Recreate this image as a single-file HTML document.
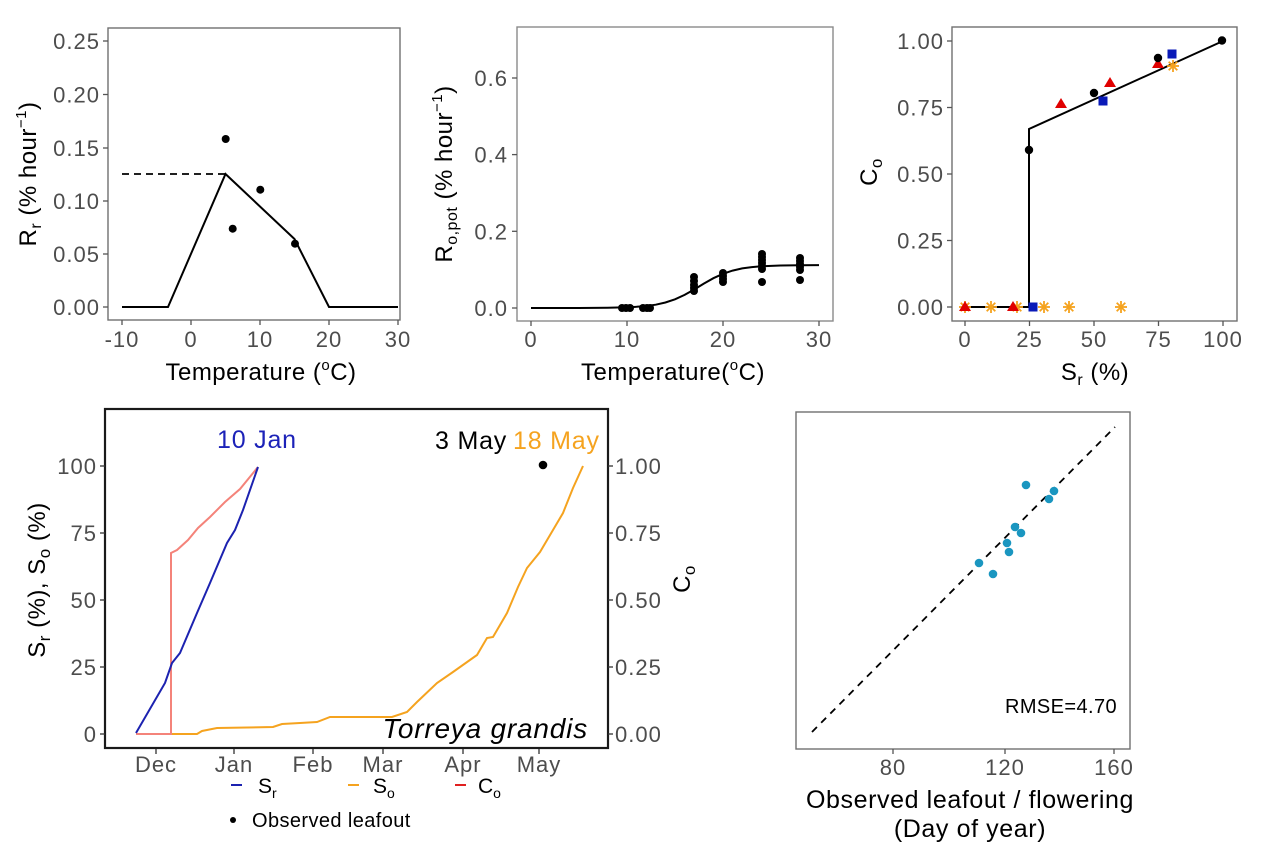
<!DOCTYPE html>
<html><head><meta charset="utf-8"><style>
html,body{margin:0;padding:0;background:#fff;}
svg{display:block;}
.tk{font-family:"Liberation Sans",Arial,sans-serif;font-size:22px;fill:#4d4d4d;letter-spacing:1px;}
.tt{font-family:"Liberation Sans",Arial,sans-serif;font-size:24px;fill:#000;letter-spacing:0.5px;}
</style></head><body>
<svg width="1267" height="845" viewBox="0 0 1267 845" xmlns="http://www.w3.org/2000/svg">
<rect width="1267" height="845" fill="#fff"/>

<!-- ========== Panel 1 ========== -->
<rect x="108" y="28" width="292" height="292" fill="none" stroke="#707070" stroke-width="1.4"/>
<g stroke="#555" stroke-width="1.3">
<line x1="103" y1="41" x2="108" y2="41"/><line x1="103" y1="94.5" x2="108" y2="94.5"/><line x1="103" y1="148" x2="108" y2="148"/><line x1="103" y1="201" x2="108" y2="201"/><line x1="103" y1="254" x2="108" y2="254"/><line x1="103" y1="307" x2="108" y2="307"/>
<line x1="122" y1="320" x2="122" y2="325"/><line x1="191" y1="320" x2="191" y2="325"/><line x1="260" y1="320" x2="260" y2="325"/><line x1="329" y1="320" x2="329" y2="325"/><line x1="398" y1="320" x2="398" y2="325"/>
</g>
<g class="tk" text-anchor="end">
<text x="100" y="49">0.25</text><text x="100" y="102.5">0.20</text><text x="100" y="156">0.15</text><text x="100" y="209">0.10</text><text x="100" y="262">0.05</text><text x="100" y="315">0.00</text>
</g>
<g class="tk" text-anchor="middle">
<text x="122" y="347">-10</text><text x="191" y="347">0</text><text x="260" y="347">10</text><text x="329" y="347">20</text><text x="398" y="347">30</text>
</g>
<polyline points="122,307 168,307 225.5,174 294.5,239 329,307 398,307" fill="none" stroke="#000" stroke-width="2"/>
<line x1="122" y1="174" x2="225" y2="174" stroke="#000" stroke-width="1.8" stroke-dasharray="7,5"/>
<g fill="#000"><circle cx="225.7" cy="139" r="4"/><circle cx="232.7" cy="228.7" r="4"/><circle cx="260.3" cy="189.7" r="4"/><circle cx="295" cy="243.7" r="4"/></g>
<text class="tt" x="261" y="380" text-anchor="middle">Temperature (<tspan font-size="15" dy="-10">o</tspan><tspan dy="10">C)</tspan></text>
<text class="tt" transform="translate(36,174) rotate(-90)" text-anchor="middle">R<tspan font-size="16" dy="5">r</tspan><tspan dy="-5"> (% hour</tspan><tspan font-size="15" dy="-10">−1</tspan><tspan dy="10">)</tspan></text>

<!-- ========== Panel 2 ========== -->
<rect x="517" y="27" width="316" height="294" fill="none" stroke="#8a8a8a" stroke-width="1.4"/>
<g stroke="#555" stroke-width="1.3">
<line x1="512" y1="308" x2="517" y2="308"/><line x1="512" y1="231.3" x2="517" y2="231.3"/><line x1="512" y1="154.6" x2="517" y2="154.6"/><line x1="512" y1="78" x2="517" y2="78"/>
<line x1="531" y1="321" x2="531" y2="326"/><line x1="627" y1="321" x2="627" y2="326"/><line x1="723" y1="321" x2="723" y2="326"/><line x1="819" y1="321" x2="819" y2="326"/>
</g>
<g class="tk" text-anchor="end">
<text x="508" y="316">0.0</text><text x="508" y="239.3">0.2</text><text x="508" y="162.6">0.4</text><text x="508" y="86">0.6</text>
</g>
<g class="tk" text-anchor="middle">
<text x="531" y="347">0</text><text x="627" y="347">10</text><text x="723" y="347">20</text><text x="819" y="347">30</text>
</g>
<polyline points="531,308 579,308 607.8,307.8 627,307.3 636.6,306.8 646.2,306 655.8,304.7 665.4,302.5 675,299.3 684.6,294.9 694.2,289.5 703.8,283.6 713.4,278.2 723,273.8 732.6,270.6 742.2,268.4 751.8,267.1 761.4,266.3 780.6,265.5 799.8,265.3 819,265.1" fill="none" stroke="#000" stroke-width="2"/>
<g fill="#000">
<circle cx="622" cy="308" r="4"/><circle cx="626" cy="308" r="4"/><circle cx="630" cy="308" r="4"/>
<circle cx="643" cy="308" r="4"/><circle cx="647" cy="308" r="4"/><circle cx="650" cy="308" r="4"/>
<circle cx="694" cy="277" r="4"/><circle cx="694" cy="281" r="4"/><circle cx="694" cy="285" r="4"/><circle cx="694" cy="288" r="4"/><circle cx="694" cy="291" r="4"/>
<circle cx="723" cy="273" r="4"/><circle cx="723" cy="276" r="4"/><circle cx="723" cy="279" r="4"/><circle cx="723" cy="282" r="4"/>
<circle cx="762" cy="254" r="4"/><circle cx="762" cy="257" r="4"/><circle cx="762" cy="260" r="4"/><circle cx="762" cy="263" r="4"/><circle cx="762" cy="266" r="4"/><circle cx="762" cy="269" r="4"/><circle cx="762" cy="282" r="4"/>
<circle cx="800" cy="258" r="4"/><circle cx="800" cy="261" r="4"/><circle cx="800" cy="264" r="4"/><circle cx="800" cy="267" r="4"/><circle cx="800" cy="270" r="4"/><circle cx="800" cy="280" r="4"/>
</g>
<text class="tt" x="673" y="380" text-anchor="middle">Temperature(<tspan font-size="15" dy="-10">o</tspan><tspan dy="10">C)</tspan></text>
<text class="tt" transform="translate(452,174) rotate(-90)" text-anchor="middle">R<tspan font-size="16" dy="5">o,pot</tspan><tspan dy="-5"> (% hour</tspan><tspan font-size="15" dy="-10">−1</tspan><tspan dy="10">)</tspan></text>

<!-- ========== Panel 3 ========== -->
<rect x="952" y="27" width="285" height="294" fill="none" stroke="#707070" stroke-width="1.4"/>
<g stroke="#555" stroke-width="1.3">
<line x1="947" y1="41" x2="952" y2="41"/><line x1="947" y1="107.5" x2="952" y2="107.5"/><line x1="947" y1="174" x2="952" y2="174"/><line x1="947" y1="240.5" x2="952" y2="240.5"/><line x1="947" y1="307" x2="952" y2="307"/>
<line x1="965" y1="321" x2="965" y2="326"/><line x1="1029.5" y1="321" x2="1029.5" y2="326"/><line x1="1094" y1="321" x2="1094" y2="326"/><line x1="1158.5" y1="321" x2="1158.5" y2="326"/><line x1="1223" y1="321" x2="1223" y2="326"/>
</g>
<g class="tk" text-anchor="end">
<text x="944" y="49">1.00</text><text x="944" y="115.5">0.75</text><text x="944" y="182">0.50</text><text x="944" y="248.5">0.25</text><text x="944" y="315">0.00</text>
</g>
<g class="tk" text-anchor="middle">
<text x="965" y="347">0</text><text x="1029.5" y="347">25</text><text x="1094" y="347">50</text><text x="1158.5" y="347">75</text><text x="1223" y="347">100</text>
</g>
<polyline points="965,307 1029,307 1029,129 1223,41" fill="none" stroke="#000" stroke-width="2"/>
<g stroke="#f5a31f" stroke-width="1.8">
<g transform="translate(965,307)"><line x1="-6" y1="0" x2="6" y2="0"/><line x1="0" y1="-6" x2="0" y2="6"/><line x1="-4.3" y1="-4.3" x2="4.3" y2="4.3"/><line x1="-4.3" y1="4.3" x2="4.3" y2="-4.3"/></g>
<g transform="translate(991,307)"><line x1="-6" y1="0" x2="6" y2="0"/><line x1="0" y1="-6" x2="0" y2="6"/><line x1="-4.3" y1="-4.3" x2="4.3" y2="4.3"/><line x1="-4.3" y1="4.3" x2="4.3" y2="-4.3"/></g>
<g transform="translate(1017,307)"><line x1="-6" y1="0" x2="6" y2="0"/><line x1="0" y1="-6" x2="0" y2="6"/><line x1="-4.3" y1="-4.3" x2="4.3" y2="4.3"/><line x1="-4.3" y1="4.3" x2="4.3" y2="-4.3"/></g>
<g transform="translate(1044,307)"><line x1="-6" y1="0" x2="6" y2="0"/><line x1="0" y1="-6" x2="0" y2="6"/><line x1="-4.3" y1="-4.3" x2="4.3" y2="4.3"/><line x1="-4.3" y1="4.3" x2="4.3" y2="-4.3"/></g>
<g transform="translate(1069,307)"><line x1="-6" y1="0" x2="6" y2="0"/><line x1="0" y1="-6" x2="0" y2="6"/><line x1="-4.3" y1="-4.3" x2="4.3" y2="4.3"/><line x1="-4.3" y1="4.3" x2="4.3" y2="-4.3"/></g>
<g transform="translate(1121,307)"><line x1="-6" y1="0" x2="6" y2="0"/><line x1="0" y1="-6" x2="0" y2="6"/><line x1="-4.3" y1="-4.3" x2="4.3" y2="4.3"/><line x1="-4.3" y1="4.3" x2="4.3" y2="-4.3"/></g>
<g transform="translate(1173,66)"><line x1="-6" y1="0" x2="6" y2="0"/><line x1="0" y1="-6" x2="0" y2="6"/><line x1="-4.3" y1="-4.3" x2="4.3" y2="4.3"/><line x1="-4.3" y1="4.3" x2="4.3" y2="-4.3"/></g>
</g>
<g fill="#e00000">
<polygon points="965,301 971,311 959,311"/>
<polygon points="1013,301 1019,311 1007,311"/>
<polygon points="1061,98 1067,108 1055,108"/>
<polygon points="1110,77 1116,87 1104,87"/>
<polygon points="1158,58 1164,68 1152,68"/>
</g>
<g fill="#0a1ab8">
<rect x="1028.5" y="302.5" width="9" height="9"/>
<rect x="1098.5" y="96.5" width="9" height="9"/>
<rect x="1167.5" y="49.5" width="9" height="9"/>
</g>
<g fill="#000">
<circle cx="1029" cy="150" r="4.2"/><circle cx="1094" cy="93" r="4.2"/><circle cx="1158" cy="58" r="4.2"/><circle cx="1222" cy="40.5" r="4.2"/>
</g>
<text class="tt" x="1095" y="380" text-anchor="middle">S<tspan font-size="16" dy="5">r</tspan><tspan dy="-5"> (%)</tspan></text>
<text class="tt" transform="translate(877,172) rotate(-90)" text-anchor="middle" font-size="26">C<tspan font-size="17" dy="5">o</tspan></text>

<!-- ========== Panel 4 (bottom-left) ========== -->
<rect x="105" y="409" width="503" height="339" fill="none" stroke="#1a1a1a" stroke-width="2.2"/>
<g stroke="#333" stroke-width="1.3">
<line x1="100" y1="734" x2="105" y2="734"/><line x1="100" y1="667" x2="105" y2="667"/><line x1="100" y1="600" x2="105" y2="600"/><line x1="100" y1="533" x2="105" y2="533"/><line x1="100" y1="466" x2="105" y2="466"/>
<line x1="608" y1="734" x2="613" y2="734"/><line x1="608" y1="667" x2="613" y2="667"/><line x1="608" y1="600" x2="613" y2="600"/><line x1="608" y1="533" x2="613" y2="533"/><line x1="608" y1="466" x2="613" y2="466"/>
<line x1="156" y1="749" x2="156" y2="754"/><line x1="234" y1="749" x2="234" y2="754"/><line x1="313" y1="749" x2="313" y2="754"/><line x1="383" y1="749" x2="383" y2="754"/><line x1="463" y1="749" x2="463" y2="754"/><line x1="539" y1="749" x2="539" y2="754"/>
</g>
<g class="tk" text-anchor="end">
<text x="97" y="742">0</text><text x="97" y="675">25</text><text x="97" y="608">50</text><text x="97" y="541">75</text><text x="97" y="474">100</text>
</g>
<g class="tk" text-anchor="start">
<text x="615" y="742">0.00</text><text x="615" y="675">0.25</text><text x="615" y="608">0.50</text><text x="615" y="541">0.75</text><text x="615" y="474">1.00</text>
</g>
<g class="tk" text-anchor="middle">
<text x="156" y="772">Dec</text><text x="234" y="772">Jan</text><text x="313" y="772">Feb</text><text x="383" y="772">Mar</text><text x="463" y="772">Apr</text><text x="539" y="772">May</text>
</g>
<polyline points="171,734 197,734 202,731 217,728 273,727 282,724 300,723 317,722 330,717 392,717 407,712 417,702 437,683 453,672 477,655 487,638 493,637 507,613 518,587 527,568 540,552 553,530 563,513 573,488 583,466" fill="none" stroke="#f5a31f" stroke-width="2"/>
<polyline points="136,734 171,734 171,553 177,550 188,540 198,528 210,517 225,502 240,489 258,467" fill="none" stroke="#f4837a" stroke-width="2"/>
<polyline points="136,733 165,683 172,663 180,653 197,613 210,583 227,543 235,530 243,510 258,467" fill="none" stroke="#1c22b0" stroke-width="2"/>
<circle cx="543" cy="465" r="4.3" fill="#000"/>
<text x="217" y="448" font-family="Liberation Sans, Arial, sans-serif" font-size="25" fill="#1c22b8" letter-spacing="0.8">10 Jan</text>
<text x="435" y="449" font-family="Liberation Sans, Arial, sans-serif" font-size="25" fill="#000" letter-spacing="0.8">3 May</text>
<text x="513" y="449" font-family="Liberation Sans, Arial, sans-serif" font-size="25" fill="#f5a31f" letter-spacing="0.8">18 May</text>
<text x="588" y="738" text-anchor="end" font-family="Liberation Sans, Arial, sans-serif" font-size="28" font-style="italic" fill="#000" letter-spacing="0.8">Torreya grandis</text>
<text class="tt" font-size="25" transform="translate(45,580) rotate(-90)" text-anchor="middle">S<tspan font-size="17" dy="5">r</tspan><tspan dy="-5"> (%), S</tspan><tspan font-size="17" dy="5">o</tspan><tspan dy="-5"> (%)</tspan></text>
<text class="tt" font-size="26" transform="translate(690,579) rotate(-90)" text-anchor="middle">C<tspan font-size="17" dy="5">o</tspan></text>
<line x1="231" y1="785" x2="242" y2="785" stroke="#1c22b0" stroke-width="2"/>
<text x="258" y="793" font-family="Liberation Sans, Arial, sans-serif" font-size="21" fill="#000">S<tspan font-size="14" dy="5">r</tspan></text>
<line x1="348" y1="785" x2="359" y2="785" stroke="#f5a31f" stroke-width="2"/>
<text x="373" y="793" font-family="Liberation Sans, Arial, sans-serif" font-size="21" fill="#000">S<tspan font-size="14" dy="5">o</tspan></text>
<line x1="455" y1="785" x2="466" y2="785" stroke="#e02020" stroke-width="2"/>
<text x="478" y="793" font-family="Liberation Sans, Arial, sans-serif" font-size="21" fill="#000">C<tspan font-size="14" dy="5">o</tspan></text>
<circle cx="233" cy="820" r="3" fill="#000"/>
<text x="252" y="827" font-family="Liberation Sans, Arial, sans-serif" font-size="20" fill="#000" letter-spacing="0.4">Observed leafout</text>

<!-- ========== Panel 5 (bottom-right) ========== -->
<rect x="796" y="412" width="334" height="337" fill="none" stroke="#707070" stroke-width="1.4"/>
<g stroke="#555" stroke-width="1.3">
<line x1="893" y1="749" x2="893" y2="754"/><line x1="1005" y1="749" x2="1005" y2="754"/><line x1="1114" y1="749" x2="1114" y2="754"/>
</g>
<g class="tk" text-anchor="middle">
<text x="893" y="775">80</text><text x="1005" y="775">120</text><text x="1114" y="775">160</text>
</g>
<line x1="812" y1="732" x2="1115" y2="427" stroke="#000" stroke-width="1.8" stroke-dasharray="7,6"/>
<g fill="#1a96c0">
<circle cx="1026" cy="485" r="4.3"/><circle cx="1054" cy="491" r="4.3"/><circle cx="1049" cy="499" r="4.3"/><circle cx="1015" cy="527" r="4.3"/><circle cx="1021" cy="533" r="4.3"/><circle cx="1007" cy="543" r="4.3"/><circle cx="1009" cy="552" r="4.3"/><circle cx="979" cy="563" r="4.3"/><circle cx="993" cy="574" r="4.3"/>
</g>
<text x="1117" y="713" text-anchor="end" font-family="Liberation Sans, Arial, sans-serif" font-size="20" fill="#000" letter-spacing="0.4">RMSE=4.70</text>
<text x="970" y="808" text-anchor="middle" font-family="Liberation Sans, Arial, sans-serif" font-size="25" fill="#000" letter-spacing="0.6">Observed leafout / flowering</text>
<text x="970" y="837" text-anchor="middle" font-family="Liberation Sans, Arial, sans-serif" font-size="25" fill="#000" letter-spacing="0.6">(Day of year)</text>
</svg>
</body></html>
